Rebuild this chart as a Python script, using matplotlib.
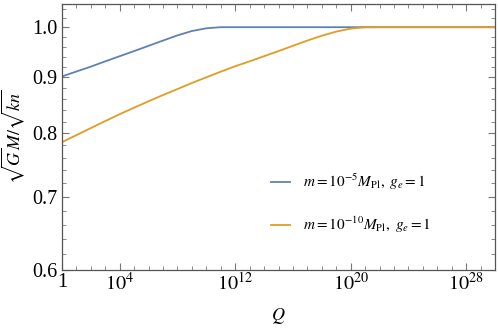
import numpy as np
import matplotlib
matplotlib.use("Agg")
import matplotlib.pyplot as plt
from matplotlib.ticker import FixedLocator, NullFormatter

plt.rcParams['font.family'] = ['Liberation Serif', 'DejaVu Serif']
plt.rcParams['mathtext.fontset'] = 'stix'

# log10(Q) sample points
log_q = np.arange(0, 31)

# sqrt(G) M / sqrt(kn) for m = 1e-5 M_Pl
ratio_m5 = [0.9016, 0.9110, 0.9204, 0.9307, 0.9408, 0.9510, 0.9616, 0.9723, 0.9829, 0.9920,
            0.9977, 1.0, 1.0, 1.0, 1.0, 1.0, 1.0, 1.0, 1.0, 1.0,
            1.0, 1.0, 1.0, 1.0, 1.0, 1.0, 1.0, 1.0, 1.0, 1.0, 1.0]

# sqrt(G) M / sqrt(kn) for m = 1e-10 M_Pl
ratio_m10 = [0.7852, 0.7969, 0.8088, 0.8208, 0.8328, 0.8443, 0.8557, 0.8670, 0.8780, 0.8892,
             0.9000, 0.9107, 0.9211, 0.9307, 0.9408, 0.9510, 0.9616, 0.9723, 0.9822, 0.9908,
             0.9970, 0.9998, 1.0, 1.0, 1.0, 1.0, 1.0, 1.0, 1.0, 1.0, 1.0]

labels = [r"$m=10^{-5}M_{\rm Pl},\ g_e=1$", r"$m=10^{-10}M_{\rm Pl},\ g_e=1$"]
colors = ["#5E81B5", "#E19C24"]

x_major = [1, 1e4, 1e12, 1e20, 1e28]
x_major_labels = ["1", r"$10^{4}$", r"$10^{12}$", r"$10^{20}$", r"$10^{28}$"]
y_major = [0.6, 0.7, 0.8, 0.9, 1.0]
y_major_labels = ["0.6", "0.7", "0.8", "0.9", "1.0"]

fig = plt.figure(figsize=(4.98, 3.30), dpi=100)
ax = fig.add_axes([62 / 498, 1 - 270 / 330, 433 / 498, 266 / 330])

q = 10.0 ** log_q
ax.plot(q, ratio_m5, color=colors[0], lw=1.3, label=labels[0])
ax.plot(q, ratio_m10, color=colors[1], lw=1.3, label=labels[1])

ax.set_xscale('log')
ax.set_yscale('log')
ax.set_xlim(1, 1e30)
ax.set_ylim(0.6, 1.05)

ax.xaxis.set_major_locator(FixedLocator(x_major))
ax.set_xticklabels(x_major_labels)
ax.xaxis.set_minor_locator(FixedLocator([10.0 ** k for k in range(31) if 10.0 ** k not in x_major]))
ax.xaxis.set_minor_formatter(NullFormatter())

ax.yaxis.set_major_locator(FixedLocator(y_major))
ax.set_yticklabels(y_major_labels)
ax.yaxis.set_minor_locator(FixedLocator([0.62 + 0.02 * i for i in range(22) if i % 5 != 4]))
ax.yaxis.set_minor_formatter(NullFormatter())

for s in ax.spines.values():
    s.set_color('#555555')
    s.set_linewidth(0.9)

ax.tick_params(which='both', direction='in', top=True, right=True, colors='#777777',
               labelcolor='black', labelsize=14.5)
ax.tick_params(which='major', length=5, width=0.8, pad=2)
ax.tick_params(axis='y', which='major', pad=3)
ax.tick_params(which='minor', length=3, width=0.6)

ax.set_xlabel(r"$Q$", fontsize=13, labelpad=8)
ax.set_ylabel(r"$\sqrt{G}M/\sqrt{kn}$", fontsize=13, labelpad=4)

ax.legend(loc='center left', bbox_to_anchor=(0.45, 0.25), frameon=False,
          fontsize=11, handlelength=1.3, handletextpad=0.8, labelspacing=1.5)

fig.savefig("out.png", dpi=100)
